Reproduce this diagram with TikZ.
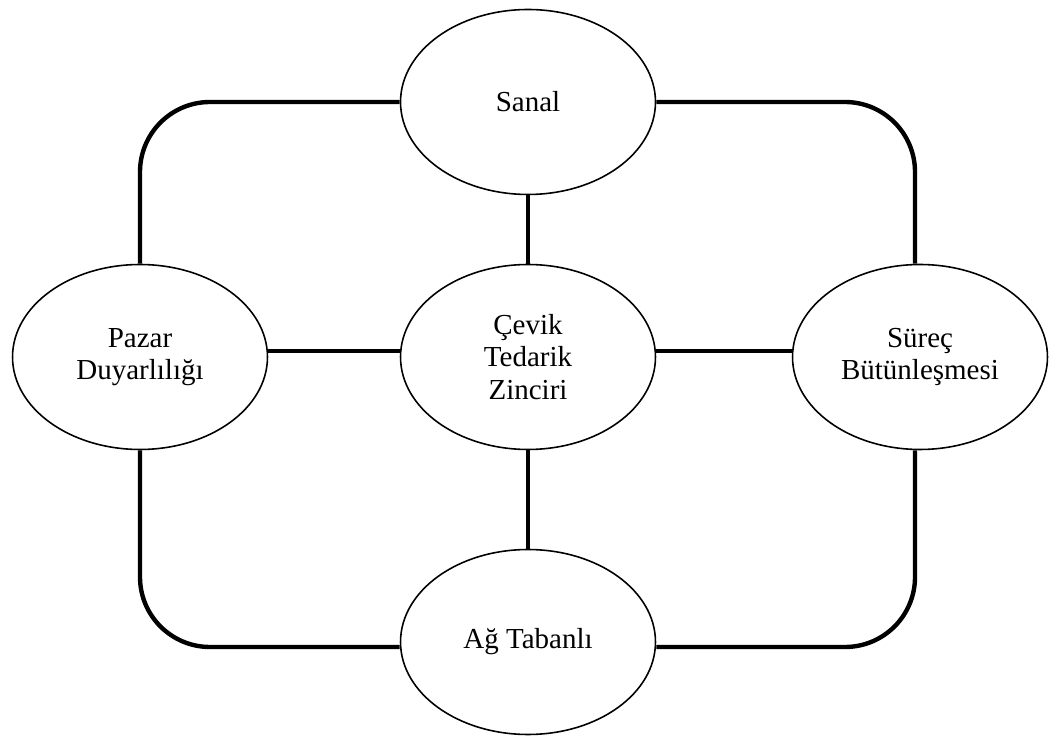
\documentclass[tikz,border=0pt]{standalone}
\usepackage{fontspec}
\setmainfont{Liberation Serif}
\usetikzlibrary{shapes.geometric}

\begin{document}
\begin{tikzpicture}[x=0.02cm,y=-0.02cm,
    blob/.style={draw, ellipse, line width=0.9pt, minimum width=5.1cm, minimum height=3.7cm,
        inner sep=0pt, align=center, font=\fontsize{16.5}{18.5}\selectfont},
    loopline/.style={line width=2.5pt, rounded corners=1.4cm},
    spoke/.style={line width=1.9pt}]
    \useasboundingbox (0,0) rectangle (1051,742);

    \node[blob] (sanal) at (528,102) {Sanal};
    \node[blob] (cevik) at (528,357) {Çevik\\Tedarik\\Zinciri};
    \node[blob] (pazar) at (140,357) {Pazar\\Duyarlılığı};
    \node[blob] (surec) at (920,357) {Süreç\\Bütünleşmesi};
    \node[blob] (ag) at (528,642) {Ağ Tabanlı};

    % outer loop
    \draw[loopline] (sanal.west) -| (pazar.north);
    \draw[loopline] (pazar.south) |- ([yshift=-0.1cm]ag.west);
    \draw[loopline] (sanal.east) -| ([xshift=-0.1cm]surec.north);
    \draw[loopline] ([xshift=-0.1cm]surec.south) |- ([yshift=-0.1cm]ag.east);

    % spokes
    \draw[spoke] (sanal) -- (cevik)
    (cevik) -- (ag)
    ([yshift=0.12cm]pazar.east) -- ([yshift=0.12cm]cevik.west)
    ([yshift=0.12cm]cevik.east) -- ([yshift=0.12cm]surec.west);
\end{tikzpicture}
\end{document}
